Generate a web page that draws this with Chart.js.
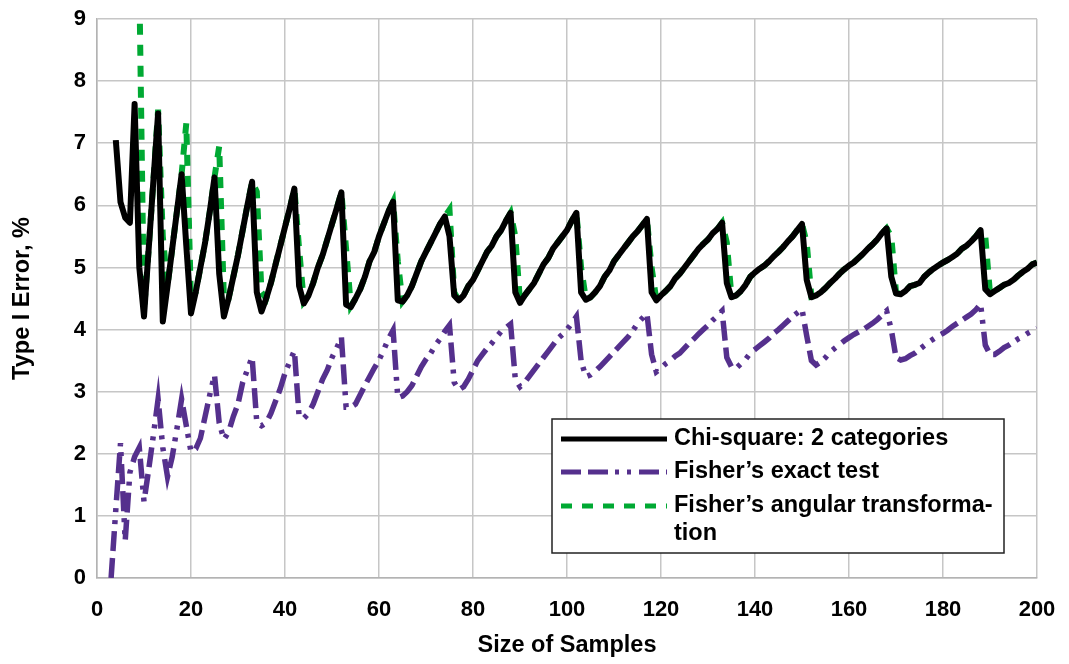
<!DOCTYPE html>
<html>
<head>
<meta charset="utf-8">
<script src="https://cdn.jsdelivr.net/npm/chart.js@4"></script>
<style>
  html, body { margin: 0; padding: 0; background: #fff; }
</style>
</head>
<body>
<canvas id="myChart" width="1069" height="664"></canvas>
<script>
// sample sizes 3..200, one entry per size
const sampleSizes = Array.from({ length: 198 }, (_, i) => i + 3);

// Chi-square: 2 categories, Type I error in %
const chiSquare = [
  null, 7.05, 6.05, 5.8, 5.72, 7.63, 5.0,                      // 3-9
  4.21, 5.3, 6.4, 7.48, 4.13, 4.7, 5.3, 5.9, 6.5, 5.35,        // 10-19
  4.26, 4.6, 5.0, 5.4, 5.9, 6.45, 4.9, 4.21, 4.5, 4.85,        // 20-29
  5.2, 5.6, 6.0, 6.38, 4.6, 4.29, 4.5, 4.75, 5.05, 5.35,       // 30-39
  5.65, 5.95, 6.27, 4.7, 4.42, 4.55, 4.75, 5.0, 5.2, 5.45,     // 40-49
  5.7, 5.95, 6.21, 4.4, 4.36, 4.5, 4.65, 4.85, 5.1, 5.25,      // 50-59
  5.5, 5.7, 5.9, 6.06, 4.47, 4.45, 4.55, 4.7, 4.9, 5.1,        // 60-69
  5.25, 5.4, 5.55, 5.7, 5.82, 5.5, 4.55, 4.47, 4.55, 4.7,      // 70-79
  4.8, 4.95, 5.1, 5.25, 5.35, 5.5, 5.6, 5.75, 5.88, 4.6,       // 80-89
  4.43, 4.55, 4.65, 4.75, 4.9, 5.05, 5.15, 5.3, 5.4, 5.5,      // 90-99
  5.6, 5.75, 5.88, 4.6, 4.48, 4.52, 4.6, 4.7, 4.85, 4.95,      // 100-109
  5.1, 5.2, 5.3, 5.4, 5.5, 5.58, 5.68, 5.78, 4.6, 4.47,        // 110-119
  4.55, 4.62, 4.7, 4.82, 4.9, 5.0, 5.1, 5.2, 5.3, 5.38,        // 120-129
  5.45, 5.55, 5.62, 5.72, 4.75, 4.52, 4.55, 4.62, 4.72, 4.85,  // 130-139
  4.92, 4.98, 5.03, 5.1, 5.18, 5.25, 5.33, 5.42, 5.5, 5.6,     // 140-149
  5.7, 4.8, 4.52, 4.55, 4.6, 4.67, 4.75, 4.82, 4.9, 4.97,      // 150-159
  5.03, 5.08, 5.15, 5.22, 5.3, 5.37, 5.45, 5.55, 5.63, 4.85,   // 160-169
  4.58, 4.57, 4.62, 4.7, 4.72, 4.75, 4.85, 4.92, 4.98, 5.03,   // 170-179
  5.08, 5.12, 5.17, 5.22, 5.3, 5.35, 5.42, 5.5, 5.6, 4.65,     // 180-189
  4.57, 4.62, 4.67, 4.72, 4.75, 4.8, 4.87, 4.93, 4.98, 5.05,   // 190-199
  5.08                                                         // 200
];

// Fisher's exact test
const fisherExact = [
  0.0, 1.1, 2.17, 0.6, 1.7, 1.95, 2.1,                         // 3-9
  1.23, 1.75, 2.3, 2.88, 2.1, 1.63, 1.95, 2.4, 2.88, 2.45,     // 10-19
  2.03, 2.08, 2.25, 2.6, 2.95, 3.27, 2.5, 2.23, 2.35, 2.6,     // 20-29
  2.8, 3.15, 3.35, 3.56, 2.5, 2.45, 2.5, 2.65, 2.85, 3.05,     // 30-39
  3.3, 3.48, 3.66, 2.6, 2.57, 2.65, 2.8, 3.0, 3.2, 3.35,       // 40-49
  3.55, 3.7, 3.88, 2.75, 2.75, 2.8, 2.95, 3.1, 3.24, 3.38,     // 50-59
  3.51, 3.67, 3.85, 3.99, 2.9, 2.93, 3.0, 3.1, 3.25, 3.4,      // 60-69
  3.52, 3.62, 3.75, 3.85, 3.97, 4.07, 3.15, 3.03, 3.08, 3.2,   // 70-79
  3.35, 3.5, 3.6, 3.7, 3.78, 3.88, 3.97, 4.03, 4.09, 3.2,      // 80-89
  3.08, 3.15, 3.25, 3.35, 3.45, 3.55, 3.65, 3.75, 3.85, 3.92,  // 90-99
  4.0, 4.1, 4.21, 3.5, 3.24, 3.27, 3.33, 3.4, 3.48, 3.56,      // 100-109
  3.64, 3.72, 3.8, 3.88, 3.98, 4.1, 4.18, 4.26, 3.6, 3.32,     // 110-119
  3.38, 3.45, 3.5, 3.57, 3.62, 3.7, 3.78, 3.85, 3.93, 4.0,     // 120-129
  4.07, 4.15, 4.22, 4.3, 3.55, 3.4, 3.38, 3.45, 3.52, 3.62,    // 130-139
  3.68, 3.74, 3.8, 3.86, 3.94, 4.0, 4.07, 4.14, 4.21, 4.27,    // 140-149
  4.33, 3.9, 3.5, 3.43, 3.48, 3.55, 3.64, 3.7, 3.76, 3.82,     // 150-159
  3.87, 3.92, 3.96, 4.0, 4.05, 4.1, 4.16, 4.23, 4.3, 4.0,      // 160-169
  3.55, 3.51, 3.53, 3.58, 3.62, 3.68, 3.74, 3.8, 3.85, 3.9,    // 170-179
  3.94, 3.99, 4.05, 4.1, 4.15, 4.2, 4.25, 4.32, 4.41, 3.75,    // 180-189
  3.6, 3.6, 3.65, 3.71, 3.75, 3.8, 3.85, 3.89, 3.94, 3.98,     // 190-199
  4.02                                                         // 200
];

// Fisher's angular transformation (above 9 % for the smallest samples)
const fisherAngular = [
  null, null, null, null, null, null, 9.6,                     // 3-9
  4.3, 5.3, 6.4, 7.54, 5.5, 4.7, 5.3, 5.9, 6.5, 7.32,          // 10-19
  4.45, 4.6, 5.0, 5.4, 5.9, 6.45, 6.95, 4.5, 4.5, 4.85,        // 20-29
  5.2, 5.6, 6.0, 6.38, 6.22, 4.6, 4.5, 4.75, 5.05, 5.35,       // 30-39
  5.65, 5.95, 6.27, 5.3, 4.45, 4.55, 4.75, 5.0, 5.2, 5.45,     // 40-49
  5.7, 5.95, 6.21, 5.3, 4.38, 4.5, 4.65, 4.85, 5.1, 5.25,      // 50-59
  5.5, 5.7, 5.9, 6.06, 5.1, 4.45, 4.55, 4.7, 4.9, 5.1,         // 60-69
  5.25, 5.4, 5.55, 5.7, 5.82, 5.93, 4.6, 4.47, 4.55, 4.7,      // 70-79
  4.8, 4.95, 5.1, 5.25, 5.35, 5.5, 5.6, 5.75, 5.88, 5.5,       // 80-89
  4.45, 4.55, 4.65, 4.75, 4.9, 5.05, 5.15, 5.3, 5.4, 5.5,      // 90-99
  5.6, 5.75, 5.88, 5.0, 4.5, 4.52, 4.6, 4.7, 4.85, 4.95,       // 100-109
  5.1, 5.2, 5.3, 5.4, 5.5, 5.58, 5.68, 5.78, 5.0, 4.48,        // 110-119
  4.55, 4.62, 4.7, 4.82, 4.9, 5.0, 5.1, 5.2, 5.3, 5.38,        // 120-129
  5.45, 5.55, 5.62, 5.72, 5.4, 4.53, 4.55, 4.62, 4.72, 4.85,   // 130-139
  4.92, 4.98, 5.03, 5.1, 5.18, 5.25, 5.33, 5.42, 5.5, 5.6,     // 140-149
  5.7, 5.4, 4.53, 4.55, 4.6, 4.67, 4.75, 4.82, 4.9, 4.97,      // 150-159
  5.03, 5.08, 5.15, 5.22, 5.3, 5.37, 5.45, 5.55, 5.63, 5.5,    // 160-169
  4.6, 4.57, 4.62, 4.7, 4.72, 4.75, 4.85, 4.92, 4.98, 5.03,    // 170-179
  5.08, 5.12, 5.17, 5.22, 5.3, 5.35, 5.42, 5.5, 5.6, 5.5,      // 180-189
  4.58, 4.62, 4.67, 4.72, 4.75, 4.8, 4.87, 4.93, 4.98, 5.05,   // 190-199
  5.08                                                         // 200
];

const seriesNames = ['Chi-square: 2 categories', 'Fisher\u2019s exact test', 'Fisher\u2019s angular transforma-'];

const FONT = '"Liberation Sans", Arial, sans-serif';
const toPoints = (vals) => sampleSizes.map((n, i) => ({ x: n, y: vals[i] }));

// legend box drawn inside the plot, like the original
const legendBox = {
  id: 'legendBox',
  afterDraw(chart) {
    const ctx = chart.ctx;
    const ds = chart.data.datasets;
    ctx.save();
    ctx.fillStyle = '#fff';
    ctx.fillRect(552, 419, 452, 134);
    ctx.strokeStyle = '#222';
    ctx.lineWidth = 1.5;
    ctx.strokeRect(552, 419, 452, 134);
    const rows = [439, 472, 506];
    ds.forEach((d, i) => {
      ctx.beginPath();
      ctx.strokeStyle = d.borderColor;
      ctx.lineWidth = 5;
      ctx.setLineDash(d.borderDash || []);
      ctx.lineCap = 'butt';
      ctx.moveTo(561, rows[i]);
      ctx.lineTo(667, rows[i]);
      ctx.stroke();
    });
    ctx.setLineDash([]);
    ctx.fillStyle = '#000';
    ctx.font = 'bold 23.5px ' + FONT;
    ctx.textBaseline = 'middle';
    ctx.textAlign = 'left';
    seriesNames.forEach((t, i) => ctx.fillText(t, 674, rows[i]));
    ctx.fillText('tion', 674, 534);
    ctx.restore();
  }
};

const ctx = document.getElementById('myChart').getContext('2d');
const myChart = new Chart(ctx, {
  type: 'line',
  data: {
    datasets: [{
      label: seriesNames[0],
      data: toPoints(chiSquare),
      borderColor: '#000000',
      borderWidth: 6,
      borderJoinStyle: 'round',
      fill: false
    }, {
      label: seriesNames[1],
      data: toPoints(fisherExact),
      borderColor: '#55308d',
      borderWidth: 5.5,
      borderDash: [20, 7, 20, 7, 4, 8, 4, 8],
      fill: false
    }, {
      label: seriesNames[2],
      data: toPoints(fisherAngular),
      borderColor: '#00a933',
      borderWidth: 6,
      borderDash: [11, 10],
      fill: false
    }]
  },
  options: {
    responsive: false,
    animation: false,
    devicePixelRatio: 1,
    elements: { point: { radius: 0 }, line: { tension: 0 } },
    layout: { padding: { left: 0, right: 32, top: 19, bottom: 0 } },
    plugins: { legend: { display: false }, tooltip: { enabled: false } },
    scales: {
      x: {
        type: 'linear',
        min: 0,
        max: 200,
        afterFit: (s) => { s.height = 86; },
        ticks: { stepSize: 20, color: '#000', padding: 0, font: { family: FONT, size: 22, weight: 'bold' } },
        grid: { color: '#c6c6c6', lineWidth: 1.5, drawTicks: true, tickLength: 19, tickColor: 'rgba(0,0,0,0)' },
        border: { color: '#b3b3b3', width: 1.5 },
        title: {
          display: true,
          text: 'Size of Samples',
          color: '#000',
          font: { family: FONT, size: 23.5, weight: 'bold' },
          padding: { top: 0, bottom: 4 }
        }
      },
      y: {
        min: 0,
        max: 9,
        afterFit: (s) => { s.width = 97; },
        ticks: { stepSize: 1, color: '#000', padding: 0, font: { family: FONT, size: 22, weight: 'bold' } },
        grid: { color: '#c6c6c6', lineWidth: 1.5, drawTicks: true, tickLength: 11, tickColor: 'rgba(0,0,0,0)' },
        border: { color: '#b3b3b3', width: 1.5 },
        title: {
          display: true,
          text: 'Type I Error, %',
          color: '#000',
          font: { family: FONT, size: 23.5, weight: 'bold' },
          padding: { top: 8, bottom: 0 }
        }
      }
    }
  },
  plugins: [legendBox]
});
</script>
</body>
</html>
